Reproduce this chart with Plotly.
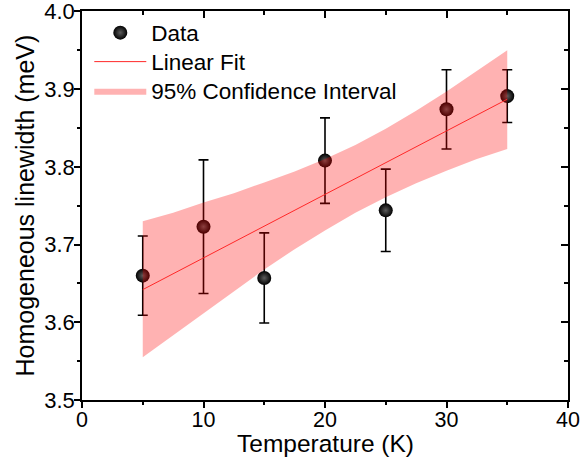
import plotly.graph_objects as go

# Data
temperature = [5, 10, 15, 20, 25, 30, 35]
linewidth = [3.660, 3.723, 3.657, 3.808, 3.744, 3.874, 3.891]
linewidth_err = [0.051, 0.086, 0.058, 0.055, 0.053, 0.051, 0.034]

fit_x = [5, 35]
fit_y = [3.642, 3.887]

band_x = [5, 7.5, 10, 12.5, 15, 17.5, 20, 22.5, 25, 27.5, 30, 32.5, 35]
band_upper = [3.730, 3.741, 3.754, 3.766, 3.780, 3.794, 3.810, 3.828, 3.849, 3.872, 3.897, 3.923, 3.950]
band_lower = [3.555, 3.584, 3.612, 3.640, 3.668, 3.694, 3.718, 3.741, 3.761, 3.779, 3.795, 3.810, 3.823]

x_range = [0, 40]
y_range = [3.5, 4.0005]

x_title = "Temperature (K)"
y_title = "Homogeneous linewidth (meV)"

FONT = "Arial, 'Liberation Sans', sans-serif"

fig = go.Figure()

fig.add_trace(go.Scatter(
    x=temperature, y=linewidth, mode="markers", name="Data",
    marker=dict(size=14, color="black",
                gradient=dict(type="radial", color="#5c5c5c"),
                line=dict(width=0)),
    error_y=dict(type="data", array=linewidth_err, visible=True,
                 color="black", thickness=1.6, width=5),
    legend="legend",
))

fig.add_trace(go.Scatter(
    x=band_x + band_x[::-1], y=band_upper + band_lower[::-1],
    fill="toself", fillcolor="rgba(255,0,0,0.3)", mode="lines",
    line=dict(width=0, color="rgba(255,0,0,0)"),
    name="95% Confidence Interval", hoverinfo="skip",
    legend="legend3",
))

fig.add_trace(go.Scatter(
    x=fit_x, y=fit_y, mode="lines", name="Linear Fit",
    line=dict(color="rgb(255,40,40)", width=1),
    legend="legend2",
))

# invisible trace for the inside ticks on the top/right axes
fig.add_trace(go.Scatter(
    x=temperature, y=linewidth, xaxis="x2", yaxis="y2", mode="markers",
    marker=dict(opacity=0), showlegend=False, hoverinfo="skip",
))

axis_common = dict(showgrid=False, zeroline=False, showline=True,
                   linecolor="black", linewidth=1.6, tickcolor="black",
                   tickwidth=1.5, automargin=False)

legend_common = dict(x=0.015, xanchor="left", yanchor="middle",
                     bgcolor="rgba(0,0,0,0)", font=dict(size=22.5),
                     itemwidth=52)

fig.update_layout(
    width=582, height=465,
    margin=dict(l=82, r=14, t=11, b=65),
    paper_bgcolor="white", plot_bgcolor="white",
    font=dict(family=FONT, color="black", size=22),
    xaxis=dict(range=x_range, dtick=10, ticks="outside", ticklen=6,
               tickfont=dict(size=21.5), mirror=True, ticklabelstandoff=-7,
               ticklabeloverflow="allow",
               minor=dict(dtick=5, ticks="outside", ticklen=3,
                          tickcolor="black", tickwidth=1.5),
               **axis_common),
    yaxis=dict(range=y_range, tick0=3.5, dtick=0.1, tickformat=".1f",
               ticks="outside", ticklen=6, tickfont=dict(size=22),
               mirror=True, ticklabelstandoff=-5, ticklabeloverflow="allow",
               minor=dict(dtick=0.05, ticks="outside", ticklen=3,
                          tickcolor="black", tickwidth=1.5),
               **axis_common),
    xaxis2=dict(range=x_range, dtick=10, overlaying="x", side="top",
                ticks="inside", ticklen=7, showticklabels=False,
                minor=dict(dtick=5, ticks="inside", ticklen=4,
                           tickcolor="black", tickwidth=1.5),
                **axis_common),
    yaxis2=dict(range=y_range, tick0=3.5, dtick=0.1, overlaying="y", side="right",
                ticks="inside", ticklen=7, showticklabels=False,
                minor=dict(dtick=0.05, ticks="inside", ticklen=4,
                           tickcolor="black", tickwidth=1.5),
                **axis_common),
    showlegend=True,
    legend=dict(y=0.9434, **legend_common),
    legend2=dict(y=0.8689, **legend_common),
    legend3=dict(y=0.7943, **legend_common),
    annotations=[
        dict(text=x_title, xref="paper", yref="paper", x=0.5, y=0,
             xanchor="center", yanchor="middle", yshift=-43,
             showarrow=False, font=dict(size=24.5)),
        dict(text=y_title, xref="paper", yref="paper", x=0, y=0.5,
             xanchor="center", yanchor="middle", xshift=-58, textangle=-90,
             showarrow=False, font=dict(size=25)),
    ],
)

fig.write_html("out.html")
